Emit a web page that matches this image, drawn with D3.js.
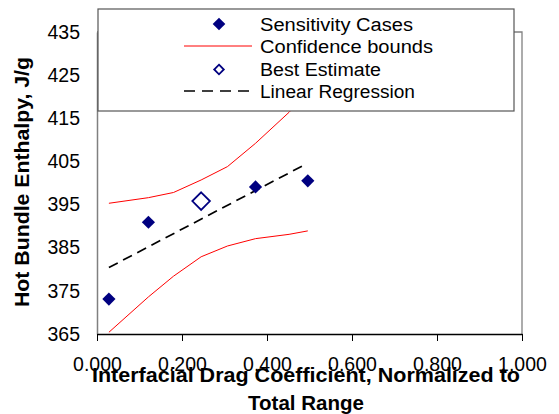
<!DOCTYPE html>
<html>
<head>
<meta charset="utf-8">
<script src="https://cdn.jsdelivr.net/npm/d3@7"></script>
<style>
  html, body { margin: 0; padding: 0; background: #fff; }
  svg { display: block; font-family: "Liberation Sans", Arial, sans-serif; }
</style>
</head>
<body>
<svg id="chart" width="559" height="414"></svg>
<script>
// Sensitivity study: hot bundle enthalpy vs. normalized interfacial drag coefficient
const sensX = [0.028, 0.121, 0.373, 0.496];
const sensY = [373.1, 390.9, 399.1, 400.5];

const bestX = [0.245];
const bestY = [395.8];

const boundX = [0.028, 0.121, 0.180, 0.245, 0.307, 0.373, 0.452, 0.496];
const upperY = [395.3, 396.6, 397.8, 400.7, 403.8, 409.2, 416.4, 421.0];
const lowerY = [365.4, 373.6, 378.4, 382.9, 385.4, 387.1, 388.1, 388.9];

const regX = [0.028, 0.488];
const regY = [380.4, 404.2];

const xTicks = [0, 0.2, 0.4, 0.6, 0.8, 1.0];
const yTicks = [365, 375, 385, 395, 405, 415, 425, 435];

const legendLabels = ["Sensitivity Cases", "Confidence bounds", "Best Estimate", "Linear Regression"];

const svg = d3.select("#chart");
const plotL = 97, plotR = 522, plotT = 32, plotB = 334;

const x = d3.scaleLinear().domain([0, 1]).range([plotL, plotR]);
const y = d3.scaleLinear().domain([365, 435]).range([plotB, plotT]);

const navy = "#000080";

// plot frame (top and right), grey
svg.append("path")
  .attr("d", `M${plotL},${plotT}H${plotR}V${plotB}`)
  .attr("fill", "none").attr("stroke", "#808080").attr("stroke-width", 1.3);

// y axis: line and labels, no tick marks
const yAxis = d3.axisLeft(y).tickValues(yTicks).tickSize(0).tickPadding(17).tickFormat(d3.format("d"));
const gy = svg.append("g").attr("transform", `translate(${plotL},0)`).call(yAxis);
gy.select(".domain").attr("stroke", "#808080").attr("stroke-width", 1.5);
gy.selectAll("text").attr("font-size", "19.5px").attr("fill", "#000")
  .attr("font-family", "Liberation Sans, Arial, sans-serif");

// x axis with downward ticks
const xAxis = d3.axisBottom(x).tickValues(xTicks).tickSize(7).tickSizeOuter(0).tickPadding(16).tickFormat(d3.format(".3f"));
const gx = svg.append("g").attr("transform", `translate(0,${plotB})`).call(xAxis);
gx.select(".domain").attr("stroke", "#000").attr("stroke-width", 1.3);
gx.selectAll(".tick line").attr("stroke", "#000").attr("stroke-width", 1);
gx.selectAll("text").attr("font-size", "19.5px").attr("fill", "#000")
  .attr("font-family", "Liberation Sans, Arial, sans-serif");

// confidence bounds
const line = d3.line().x(d => x(d[0])).y(d => y(d[1]));
[upperY, lowerY].forEach(vals => {
  svg.append("path")
    .datum(boundX.map((v, i) => [v, vals[i]]))
    .attr("d", line)
    .attr("fill", "none").attr("stroke", "#ff0000").attr("stroke-width", 1);
});

// linear regression
svg.append("path")
  .datum(regX.map((v, i) => [v, regY[i]]))
  .attr("d", line)
  .attr("fill", "none").attr("stroke", "#000").attr("stroke-width", 1.7)
  .attr("stroke-dasharray", "10,6");

// diamond marker path
const diamond = r => `M0,${-r}L${r},0L0,${r}L${-r},0Z`;

svg.append("g").selectAll("path")
  .data(sensX.map((v, i) => [v, sensY[i]]))
  .join("path")
  .attr("transform", d => `translate(${x(d[0])},${y(d[1])})`)
  .attr("d", diamond(6.6))
  .attr("fill", navy);

svg.append("g").selectAll("path")
  .data(bestX.map((v, i) => [v, bestY[i]]))
  .join("path")
  .attr("transform", d => `translate(${x(d[0])},${y(d[1])})`)
  .attr("d", diamond(8.8))
  .attr("fill", "#fff").attr("stroke", navy).attr("stroke-width", 1.8);

// legend
const lg = svg.append("g");
lg.append("rect").attr("x", 98).attr("y", 9).attr("width", 416).attr("height", 102)
  .attr("fill", "#fff").attr("stroke", "#555").attr("stroke-width", 1.2);

const rowY = [24, 46, 69.5, 91];
const textLen = [153, 173, 121, 155];
const mx = 219;
lg.append("path").attr("transform", `translate(${mx},${rowY[0]})`).attr("d", diamond(6.3)).attr("fill", navy);
lg.append("line").attr("x1", 184).attr("x2", 252).attr("y1", rowY[1]).attr("y2", rowY[1])
  .attr("stroke", "#ff0000").attr("stroke-width", 1);
lg.append("path").attr("transform", `translate(${mx},${rowY[2]})`).attr("d", diamond(4.8))
  .attr("fill", "#fff").attr("stroke", navy).attr("stroke-width", 1.8);
lg.append("line").attr("x1", 184).attr("x2", 252).attr("y1", rowY[3]).attr("y2", rowY[3])
  .attr("stroke", "#000").attr("stroke-width", 1.7).attr("stroke-dasharray", "11,7");

lg.selectAll("text").data(legendLabels).join("text")
  .attr("x", 260).attr("y", (d, i) => rowY[i] + 6.5)
  .attr("font-size", "18px").attr("fill", "#000")
  .attr("textLength", (d, i) => textLen[i]).attr("lengthAdjust", "spacingAndGlyphs")
  .text(d => d);

// axis titles
svg.append("text")
  .attr("transform", "translate(29,182) rotate(-90)")
  .attr("text-anchor", "middle").attr("font-weight", "bold").attr("font-size", "21px")
  .attr("textLength", 250).attr("lengthAdjust", "spacingAndGlyphs")
  .text("Hot Bundle Enthalpy, J/g");

svg.append("text")
  .attr("x", 306).attr("y", 382).attr("text-anchor", "middle")
  .attr("font-weight", "bold").attr("font-size", "19.5px")
  .attr("textLength", 428).attr("lengthAdjust", "spacingAndGlyphs")
  .text("Interfacial Drag Coefficient, Normalized to");

svg.append("text")
  .attr("x", 306).attr("y", 410).attr("text-anchor", "middle")
  .attr("font-weight", "bold").attr("font-size", "19.5px")
  .attr("textLength", 116).attr("lengthAdjust", "spacingAndGlyphs")
  .text("Total Range");
</script>
</body>
</html>
